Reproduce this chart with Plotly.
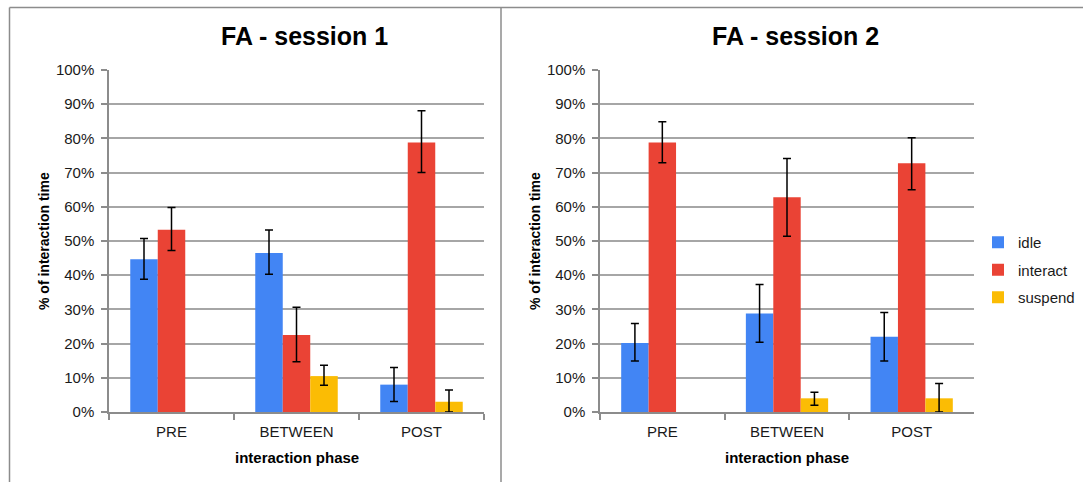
import plotly.graph_objects as go

# Interaction phases and series
phases = ["PRE", "BETWEEN", "POST"]
series_names = ["idle", "interact", "suspend"]
colors = ["#4285F4", "#EA4335", "#FBBC04"]

# Session 1 means (%) and error-bar extents
s1_idle = [44.7, 46.5, 8.0]
s1_interact = [53.3, 22.5, 78.8]
s1_suspend = [None, 10.5, 3.0]
s1_idle_hi = [50.7, 53.2, 13.0]
s1_idle_lo = [38.8, 40.3, 3.1]
s1_interact_hi = [59.8, 30.6, 88.1]
s1_interact_lo = [47.2, 14.7, 70.0]
s1_suspend_hi = [None, 13.7, 6.4]
s1_suspend_lo = [None, 7.8, 0.0]

# Session 2 means (%) and error-bar extents
s2_idle = [20.2, 28.8, 22.0]
s2_interact = [78.8, 62.8, 72.7]
s2_suspend = [None, 4.0, 4.0]
s2_idle_hi = [25.9, 37.3, 29.1]
s2_idle_lo = [14.9, 20.4, 14.9]
s2_interact_hi = [84.9, 74.1, 80.2]
s2_interact_lo = [72.9, 51.4, 65.0]
s2_suspend_hi = [None, 5.8, 8.3]
s2_suspend_lo = [None, 2.0, 0.0]

sessions = [
    ("FA - session 1", [s1_idle, s1_interact, s1_suspend],
     [s1_idle_hi, s1_interact_hi, s1_suspend_hi],
     [s1_idle_lo, s1_interact_lo, s1_suspend_lo]),
    ("FA - session 2", [s2_idle, s2_interact, s2_suspend],
     [s2_idle_hi, s2_interact_hi, s2_suspend_hi],
     [s2_idle_lo, s2_interact_lo, s2_suspend_lo]),
]

W, H = 1083, 482
FONT = "Liberation Sans Narrow, Liberation Sans, Arial, sans-serif"


def px_x(p):
    return p / W


def px_y(p):
    return 1 - p / H


def diff(a_list, b_list):
    return [None if (a is None or b is None) else a - b for a, b in zip(a_list, b_list)]


# plot-area bounds in pixels for each panel
panels = [(109, 484), (600, 974)]
y_top, y_bot = 70, 412

fig = go.Figure()

for si, (title, vals, his, los) in enumerate(sessions):
    xa = "x" if si == 0 else "x2"
    ya = "y" if si == 0 else "y2"
    for k, name in enumerate(series_names):
        v = vals[k]
        fig.add_trace(go.Bar(
            x=phases, y=v, name=name, marker_color=colors[k],
            marker_line_width=0,
            error_y=dict(type="data", symmetric=False,
                         array=diff(his[k], v), arrayminus=diff(v, los[k]),
                         color="#000000", thickness=1.5, width=4),
            xaxis=xa, yaxis=ya, legendgroup=name, showlegend=(si == 0),
        ))

axis_common_x = dict(
    type="category", showgrid=False, showline=True, linecolor="#8c8c8c", linewidth=1.5,
    ticks="outside", tickson="boundaries", ticklen=6, tickcolor="#8c8c8c", tickwidth=1.5,
    ticklabelstandoff=5,
    tickfont=dict(family=FONT, size=15, color="#1a1a1a"), fixedrange=True,
)
axis_common_y = dict(
    range=[0, 100], dtick=10, ticksuffix="%", showgrid=True, gridcolor="#a6a6a6", gridwidth=1.5,
    showline=True, linecolor="#8c8c8c", linewidth=1.5, ticks="outside", ticklen=6,
    tickcolor="#8c8c8c", tickwidth=1.5, zeroline=False, ticklabelstandoff=4,
    tickfont=dict(family=FONT, size=15, color="#1a1a1a"), fixedrange=True,
)

fig.update_layout(
    width=W, height=H, margin=dict(l=0, r=0, t=0, b=0, autoexpand=False),
    paper_bgcolor="white", plot_bgcolor="white",
    barmode="group", bargap=0.34, bargroupgap=0,
    xaxis=dict(domain=[px_x(panels[0][0]), px_x(panels[0][1])], anchor="y", **axis_common_x),
    yaxis=dict(domain=[px_y(y_bot), px_y(y_top)], anchor="x", **axis_common_y),
    xaxis2=dict(domain=[px_x(panels[1][0]), px_x(panels[1][1])], anchor="y2", **axis_common_x),
    yaxis2=dict(domain=[px_y(y_bot), px_y(y_top)], anchor="x2", **axis_common_y),
    legend=dict(x=px_x(978), y=px_y(226), xanchor="left", yanchor="top",
                font=dict(family=FONT, size=15, color="#1a1a1a"),
                itemsizing="constant", tracegroupgap=5, itemwidth=30,
                bgcolor="rgba(0,0,0,0)"),
    showlegend=True,
)

# panel frames
frame = dict(type="line", xref="paper", yref="paper", line=dict(color="#8c8c8c", width=1.5))
fig.add_shape(x0=px_x(9.5), x1=1, y0=px_y(7.5), y1=px_y(7.5), **frame)
fig.add_shape(x0=px_x(9.5), x1=px_x(9.5), y0=px_y(7.5), y1=0, **frame)
fig.add_shape(x0=px_x(501), x1=px_x(501), y0=px_y(7.5), y1=0, **frame)

# titles and axis titles
for si, (title, *_rest) in enumerate(sessions):
    x0, x1 = panels[si]
    cx = (x0 + x1) / 2
    fig.add_annotation(text="<b>" + title + "</b>", x=px_x(cx + 8), y=px_y(36),
                       xref="paper", yref="paper", showarrow=False,
                       xanchor="center", yanchor="middle",
                       font=dict(family=FONT, size=25, color="#000000"))
    fig.add_annotation(text="<b>interaction phase</b>", x=px_x(cx), y=px_y(457),
                       xref="paper", yref="paper", showarrow=False,
                       xanchor="center", yanchor="middle",
                       font=dict(family=FONT, size=15, color="#000000"))
    fig.add_annotation(text="<b>% of interaction time</b>", x=px_x(x0 - 65),
                       y=px_y((y_top + y_bot) / 2),
                       xref="paper", yref="paper", showarrow=False, textangle=-90,
                       xanchor="center", yanchor="middle",
                       font=dict(family=FONT, size=14, color="#000000"))

fig.write_html("out.html")
